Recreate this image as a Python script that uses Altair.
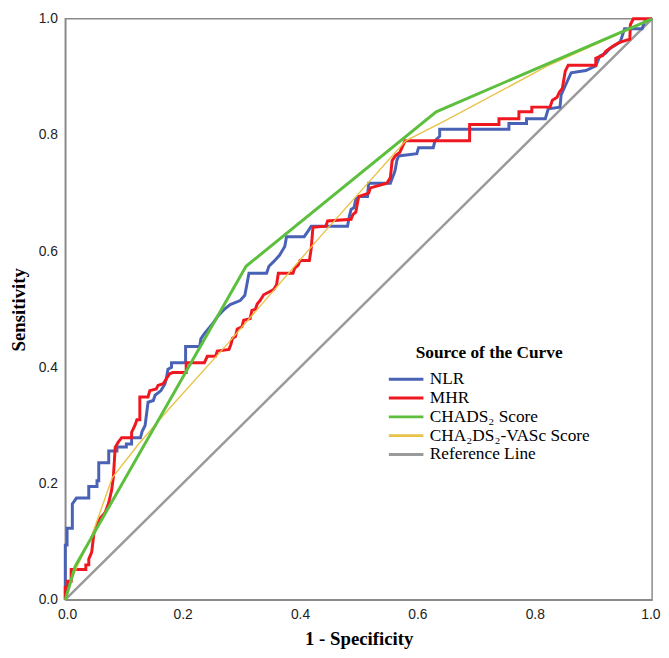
import altair as alt
import pandas as pd

# ---- data ----
series_names = ["NLR", "MHR", "CHADS₂ Score", "CHA₂DS₂-VASc Score", "Reference Line"]
series_colors = ["#4a62b6", "#f01820", "#5cbf3d", "#e9c24a", "#9a9a9a"]

nlr_x = [0, 0, 0.003, 0.003, 0.012, 0.012, 0.019, 0.040, 0.040, 0.054, 0.054, 0.057, 0.057, 0.074, 0.074,
         0.088, 0.088, 0.104, 0.104, 0.113, 0.113, 0.128, 0.131, 0.136, 0.141, 0.150, 0.153, 0.163, 0.170,
         0.172, 0.175, 0.181, 0.181, 0.205, 0.205, 0.229, 0.231, 0.237, 0.251, 0.259, 0.271, 0.281, 0.298,
         0.306, 0.313, 0.343, 0.347, 0.355, 0.365, 0.374, 0.377, 0.407, 0.414, 0.419, 0.481, 0.484, 0.487,
         0.492, 0.495, 0.500, 0.515, 0.517, 0.554, 0.557, 0.560, 0.562, 0.565, 0.568, 0.599, 0.602, 0.627,
         0.630, 0.638, 0.638, 0.756, 0.756, 0.786, 0.786, 0.818, 0.823, 0.843, 0.845, 0.857, 0.862, 0.887,
         0.904, 0.911, 0.921, 0.928, 0.938, 0.946, 0.953, 0.983, 0.987, 1.0]
nlr_y = [0, 0.094, 0.094, 0.123, 0.123, 0.165, 0.175, 0.175, 0.195, 0.195, 0.205, 0.205, 0.236, 0.236, 0.256,
         0.256, 0.263, 0.263, 0.268, 0.268, 0.279, 0.279, 0.290, 0.300, 0.340, 0.343, 0.352, 0.360, 0.372,
         0.380, 0.397, 0.400, 0.408, 0.408, 0.436, 0.436, 0.449, 0.458, 0.475, 0.487, 0.500, 0.508, 0.515,
         0.524, 0.562, 0.562, 0.574, 0.582, 0.593, 0.608, 0.625, 0.625, 0.635, 0.643, 0.643, 0.660, 0.672,
         0.675, 0.689, 0.694, 0.694, 0.717, 0.717, 0.725, 0.733, 0.739, 0.756, 0.764, 0.768, 0.778, 0.778,
         0.790, 0.798, 0.810, 0.810, 0.820, 0.820, 0.828, 0.828, 0.845, 0.848, 0.869, 0.896, 0.907, 0.911,
         0.919, 0.936, 0.941, 0.949, 0.955, 0.961, 0.983, 0.983, 0.995, 1.0]

mhr_x = [0, 0, 0.004, 0.004, 0.010, 0.010, 0.035, 0.035, 0.040, 0.040, 0.045, 0.049, 0.054, 0.060, 0.068,
         0.074, 0.079, 0.082, 0.085, 0.090, 0.096, 0.113, 0.113, 0.119, 0.122, 0.127, 0.127, 0.141, 0.144,
         0.155, 0.158, 0.167, 0.172, 0.178, 0.183, 0.206, 0.206, 0.237, 0.242, 0.256, 0.259, 0.279, 0.282,
         0.285, 0.290, 0.293, 0.301, 0.304, 0.315, 0.318, 0.324, 0.327, 0.332, 0.338, 0.355, 0.360, 0.363,
         0.388, 0.391, 0.397, 0.400, 0.416, 0.419, 0.422, 0.444, 0.447, 0.487, 0.490, 0.495, 0.500, 0.517,
         0.520, 0.548, 0.554, 0.557, 0.563, 0.570, 0.579, 0.689, 0.689, 0.739, 0.739, 0.773, 0.773, 0.795,
         0.795, 0.826, 0.830, 0.838, 0.842, 0.847, 0.852, 0.857, 0.904, 0.904, 0.916, 0.921, 0.936, 0.946,
         0.962, 0.963, 0.968, 1.0]
mhr_y = [0, 0.021, 0.021, 0.032, 0.032, 0.052, 0.052, 0.060, 0.060, 0.070, 0.082, 0.116, 0.128, 0.141, 0.150,
         0.167, 0.189, 0.212, 0.262, 0.271, 0.279, 0.279, 0.288, 0.301, 0.310, 0.310, 0.349, 0.349, 0.360,
         0.363, 0.369, 0.372, 0.380, 0.389, 0.391, 0.391, 0.408, 0.408, 0.419, 0.419, 0.428, 0.431, 0.439,
         0.450, 0.453, 0.466, 0.470, 0.481, 0.484, 0.498, 0.500, 0.509, 0.515, 0.525, 0.534, 0.542, 0.562,
         0.562, 0.571, 0.576, 0.584, 0.584, 0.604, 0.641, 0.643, 0.652, 0.655, 0.663, 0.667, 0.694, 0.700,
         0.709, 0.717, 0.727, 0.756, 0.765, 0.770, 0.790, 0.790, 0.818, 0.818, 0.828, 0.828, 0.840, 0.840,
         0.848, 0.848, 0.860, 0.865, 0.874, 0.880, 0.910, 0.920, 0.920, 0.932, 0.937, 0.944, 0.955, 0.960,
         0.965, 0.990, 1.0, 1.0]

chads_x = [0, 0.017, 0.308, 0.632, 1.0]
chads_y = [0, 0.058, 0.574, 0.840, 1.0]

vasc_x = [0, 0.010, 0.045, 0.080, 0.125, 0.178, 0.276, 0.430, 0.580, 0.650, 0.820, 1.0]
vasc_y = [0, 0.035, 0.110, 0.210, 0.268, 0.330, 0.440, 0.620, 0.790, 0.826, 0.918, 1.0]

ref_x = [0, 1.0]
ref_y = [0, 1.0]

axis_ticks = [0, 0.2, 0.4, 0.6, 0.8, 1.0]


def frame(name, xs, ys):
    return pd.DataFrame({"x": xs, "y": ys, "series": name, "i": list(range(len(xs)))})


data_by_series = {
    "NLR": frame("NLR", nlr_x, nlr_y),
    "MHR": frame("MHR", mhr_x, mhr_y),
    "CHADS₂ Score": frame("CHADS₂ Score", chads_x, chads_y),
    "CHA₂DS₂-VASc Score": frame("CHA₂DS₂-VASc Score", vasc_x, vasc_y),
    "Reference Line": frame("Reference Line", ref_x, ref_y),
}

widths = {"NLR": 3, "MHR": 3, "CHADS₂ Score": 3, "CHA₂DS₂-VASc Score": 1.4, "Reference Line": 2.5}
draw_order = ["Reference Line", "NLR", "MHR", "CHA₂DS₂-VASc Score", "CHADS₂ Score"]

color_scale = alt.Scale(domain=series_names, range=series_colors)

xenc = alt.X("x:Q", scale=alt.Scale(domain=[0, 1], nice=False),
             axis=alt.Axis(values=axis_ticks, format=".1f", title="1 - Specificity",
                           labelFlush=True, labelFlushOffset=8))
yenc = alt.Y("y:Q", scale=alt.Scale(domain=[0, 1], nice=False),
             axis=alt.Axis(values=axis_ticks, format=".1f", title="Sensitivity", labelFlush=False))

layers = []
for k, name in enumerate(draw_order):
    if k == 0:
        leg = alt.Legend(
            title="Source of the Curve", orient="none", legendX=326, legendY=329,
            symbolType="stroke", symbolSize=1225, symbolStrokeWidth=3,
            clipHeight=18.8, rowPadding=0, labelOffset=5, padding=0, titlePadding=9,
            titleAnchor="middle", labelLimit=300,
            titleFont="Liberation Serif", titleFontSize=17.5, titleFontWeight="bold", titleColor="#000",
            labelFont="Liberation Serif", labelFontSize=17.5, labelColor="#000",
        )
    else:
        leg = None
    layers.append(
        alt.Chart(data_by_series[name])
        .mark_line(strokeWidth=widths[name])
        .encode(x=xenc, y=yenc, order="i:Q",
                color=alt.Color("series:N", scale=color_scale, legend=leg))
    )

chart = (
    alt.layer(*layers)
    .properties(width=594, height=588, autosize=alt.AutoSizeParams(type="none"),
                padding={"left": 58, "top": 7, "right": 9, "bottom": 55})
    .configure_view(stroke="#8a8a8a", strokeWidth=1.5)
    .configure_axis(
        grid=False, ticks=False, domainColor="#8a8a8a", domainWidth=1.5,
        labelFont="Liberation Sans", labelFontSize=14, labelColor="#222",
        labelPadding=8,
        titleFont="Liberation Serif", titleFontSize=19, titleFontWeight="bold", titleColor="#000",
    )
    .configure_axisX(titlePadding=8)
    .configure_axisY(titlePadding=10)
)

chart.save("out.html", embed_options={"renderer": "svg", "actions": False})
